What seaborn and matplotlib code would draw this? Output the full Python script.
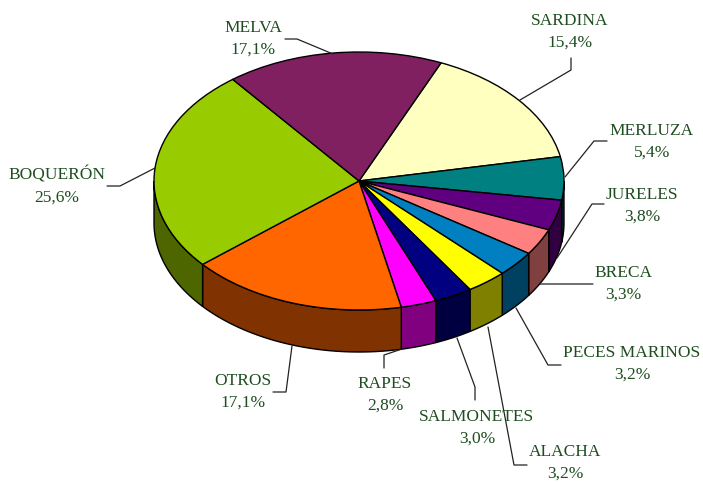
import matplotlib
matplotlib.use("Agg")
import matplotlib.pyplot as plt
import numpy as np
import seaborn as sns

# Values, clockwise from the melva/sardina boundary
species = ["SARDINA", "MERLUZA", "JURELES", "BRECA", "PECES MARINOS", "ALACHA",
           "SALMONETES", "RAPES", "OTROS", "BOQUERÓN", "MELVA"]
shares = [15.4, 5.4, 3.8, 3.3, 3.2, 3.2, 3.0, 2.8, 17.1, 25.6, 17.1]
top_colors = ["#FFFFC0", "#008080", "#600080", "#FF8080", "#0080C0", "#FFFF00",
              "#000080", "#FF00FF", "#FF6600", "#99CC00", "#802060"]
side_colors = ["#808060", "#004040", "#300040", "#804040", "#004060", "#808000",
               "#000040", "#800080", "#803300", "#4D6600", "#401030"]

# Layout in picture pixels
W, H = 703, 483
CX, CY = 359, 181
RX, RY = 205, 129
DEPTH = 42
START = 66.4
label_xy = [(570, 32), (652, 142), (642, 206), (623, 284), (632, 364), (565, 463),
            (477, 428), (385, 395), (243, 392), (57, 186), (253, 39)]
leaders = [[(520, 100), (571, 70), (571, 58)],
           [(565, 177), (594, 141), (607, 141)],
           [(557, 258), (592, 204), (604, 204)],
           [(540, 284), (593, 284)],
           [(516, 308), (548, 365), (561, 365)],
           [(488, 327), (514, 465), (527, 465)],
           [(457, 338), (475, 387), (475, 400)],
           [(402, 349), (384, 355), (384, 368)],
           [(292, 346), (286, 392), (273, 392)],
           [(155, 168), (120, 186), (107, 186)],
           [(333, 54), (297, 39), (285, 39)]]
TEXT_COLOR = "#1E4D20"

sns.set_theme(style="white")
plt.rcParams["font.family"] = ["Liberation Serif", "DejaVu Serif"]

fig = plt.figure(figsize=(W / 100, H / 100), dpi=100)
ax = fig.add_axes([0, 0, 1, 1])

# Flattened pie: axes run in radius units, y squeezed by RY / RX
wedges, _ = ax.pie(shares, colors=top_colors, startangle=START, counterclock=False,
                   radius=1, wedgeprops={"edgecolor": "black", "linewidth": 1.0, "zorder": 5})
ax.set_aspect("auto")
ax.set_xlim(-CX / RX, (W - CX) / RX)
ax.set_ylim(-(H - CY) / RY, CY / RY)

# Side wall from the part of each slice facing the viewer
d = DEPTH / RY
edges = START - np.cumsum([0] + shares) * 360 / sum(shares)
for i in range(len(shares)):
    s, e = min(edges[i], 0), max(edges[i + 1], -180)
    if s <= e:
        continue
    t = np.radians(np.linspace(s, e, 80))
    x, y = np.cos(t), np.sin(t)
    ax.fill(np.r_[x, x[::-1]], np.r_[y, y[::-1] - d], facecolor=side_colors[i],
            edgecolor="black", linewidth=1.0, zorder=2)

# Overlay in picture pixels for labels and leader lines
ov = fig.add_axes([0, 0, 1, 1], facecolor="none")
ov.set_xlim(0, W)
ov.set_ylim(H, 0)
ov.axis("off")
for name, share, (lx, ly), pts in zip(species, shares, label_xy, leaders):
    ov.text(lx, ly, f"{name}\n{share:.1f}%".replace(".", ","), ha="center", va="center",
            fontsize=12.5, color=TEXT_COLOR, linespacing=1.45)
    xs, ys = zip(*pts)
    ov.plot(xs, ys, color="#222222", linewidth=0.9, snap=False)

fig.savefig("out.png", dpi=100)
